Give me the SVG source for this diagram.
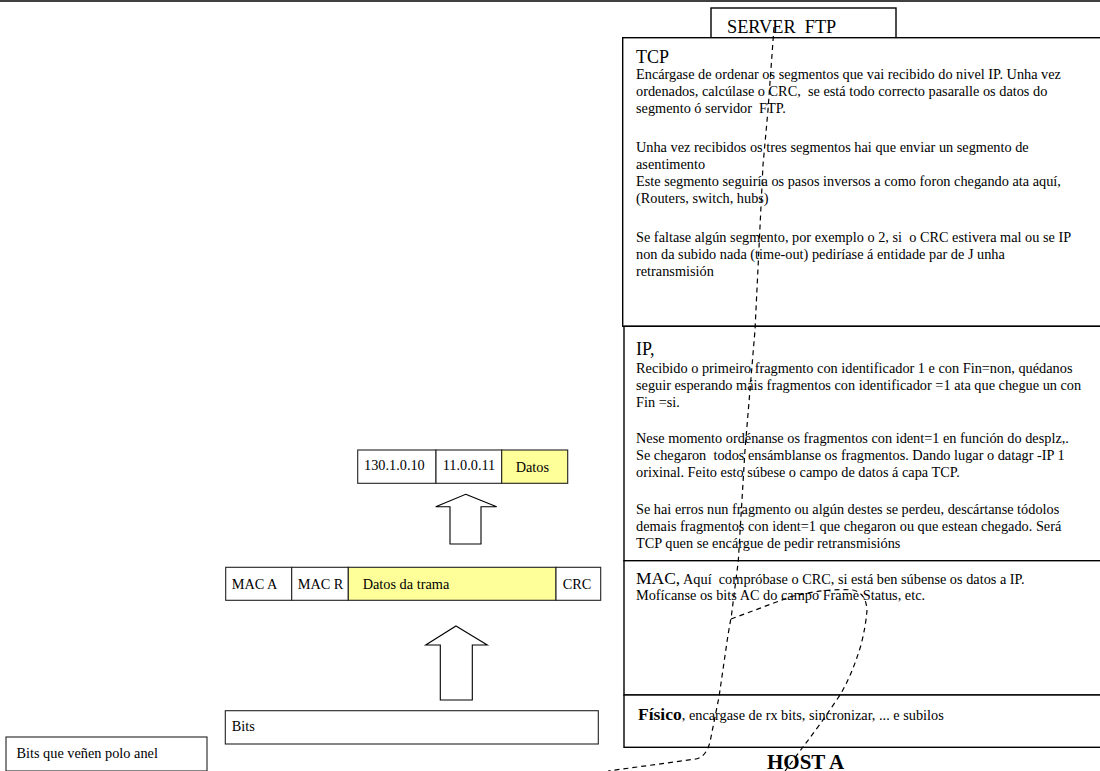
<svg xmlns="http://www.w3.org/2000/svg" width="1100" height="771" viewBox="0 0 1100 771" xml:space="preserve">
<style>
text { font-family: "Liberation Serif", "Times New Roman", serif; fill: #000; white-space: pre; }
.b { font-size: 14.3px; }
.h { font-size: 18px; }
.box { fill: #fff; stroke: #000; stroke-width: 1.4; }
.cell { fill: #fff; stroke: #222; stroke-width: 1.1; }
.yel { fill: #ffff99; stroke: #222; stroke-width: 1.1; }
.arrow { fill: #fff; stroke: #000; stroke-width: 1.1; }
.dash { fill: none; stroke: #000; stroke-width: 1.2; stroke-dasharray: 5 4; }
</style>
<rect width="1100" height="771" fill="#fff"/>
<line x1="0" y1="1" x2="1100" y2="1" stroke="#000" stroke-width="1.4"/>

<g id="server-ftp">
<rect class="box" x="711" y="8" width="185" height="30"/>
<text x="727" y="33" style="font-size:18.3px">SERVER  FTP</text>
</g>

<g id="tcp">
<rect class="box" x="622.7" y="37.7" width="490" height="288.6"/>
<text x="636" y="63" class="h">TCP</text>
<text class="b" x="636" y="79">Encárgase de ordenar os segmentos que vai recibido do nivel IP. Unha vez</text>
<text class="b" x="636" y="96">ordenados, calcúlase o CRC,  se está todo correcto pasaralle os datos do</text>
<text class="b" x="636" y="113">segmento ó servidor  FTP.</text>
<text class="b" x="636" y="152">Unha vez recibidos os tres segmentos hai que enviar un segmento de</text>
<text class="b" x="636" y="169">asentimento</text>
<text class="b" x="636" y="186">Este segmento seguiría os pasos inversos a como foron chegando ata aquí,</text>
<text class="b" x="636" y="203">(Routers, switch, hubs)</text>
<text class="b" x="636" y="242">Se faltase algún segmento, por exemplo o 2, si  o CRC estivera mal ou se IP</text>
<text class="b" x="636" y="259">non da subido nada (time-out) pediríase á entidade par de J unha</text>
<text class="b" x="636" y="276">retransmisión</text>
</g>

<g id="ip">
<rect class="box" x="624" y="326.3" width="490" height="234.4"/>
<text x="636" y="355" class="h">IP,</text>
<text class="b" x="636" y="373">Recibido o primeiro fragmento con identificador 1 e con Fin=non, quédanos</text>
<text class="b" x="636" y="390">seguir esperando máis fragmentos con identificador =1 ata que chegue un con</text>
<text class="b" x="636" y="407">Fin =si.</text>
<text class="b" x="636" y="443">Nese momento ordénanse os fragmentos con ident=1 en función do desplz,.</text>
<text class="b" x="636" y="460">Se chegaron  todos ensámblanse os fragmentos. Dando lugar o datagr -IP 1</text>
<text class="b" x="636" y="477">orixinal. Feito esto súbese o campo de datos á capa TCP.</text>
<text class="b" x="636" y="514">Se hai erros nun fragmento ou algún destes se perdeu, descártanse tódolos</text>
<text class="b" x="636" y="531">demais fragmentos con ident=1 que chegaron ou que estean chegado. Será</text>
<text class="b" x="636" y="548">TCP quen se encárgue de pedir retransmisións</text>
</g>

<g id="mac">
<rect class="box" x="624" y="560.7" width="490" height="134.3"/>
<text class="b" x="636" y="584"><tspan style="font-size:17.5px">MAC,</tspan> Aquí  compróbase o CRC, si está ben súbense os datos a IP.</text>
<text class="b" x="636" y="600">Mofícanse os bits AC do campo Frame Status, etc.</text>
</g>

<g id="fisico">
<rect class="box" x="624" y="695" width="490" height="52.3"/>
<text class="b" x="638" y="720"><tspan style="font-size:17.5px;font-weight:bold">Físico</tspan>, encargase de rx bits, sincronizar, ... e subilos</text>
</g>

<g id="host-a">
<text x="767" y="769" style="font-size:21px;font-weight:bold">HOST A</text>
</g>

<g id="ip-datagram">
<rect class="cell" x="357.7" y="450" width="78.3" height="33.3"/>
<rect class="cell" x="436" y="450" width="65.7" height="33.3"/>
<rect class="yel" x="501.7" y="450" width="66" height="33.3"/>
<text class="b" x="364" y="470">130.1.0.10</text>
<text class="b" x="442.7" y="470">11.0.0.11</text>
<text class="b" x="515.7" y="472">Datos</text>
</g>

<g id="frame">
<rect class="cell" x="225.7" y="567.3" width="66" height="33"/>
<rect class="cell" x="291.7" y="567.3" width="56.6" height="33"/>
<rect class="yel" x="348.3" y="567.3" width="207.7" height="33"/>
<rect class="cell" x="556" y="567.3" width="44.7" height="33"/>
<text class="b" x="231.7" y="588.5">MAC A</text>
<text class="b" x="297.7" y="588.5">MAC R</text>
<text class="b" x="362.7" y="588.5">Datos da trama</text>
<text class="b" x="562.7" y="588.5">CRC</text>
</g>

<g id="bits">
<rect class="cell" x="225.3" y="710.7" width="373" height="33.3"/>
<text class="b" x="231.7" y="731">Bits</text>
</g>

<g id="bits-anel">
<rect class="cell" x="6" y="737" width="201" height="34"/>
<text class="b" x="16.5" y="758">Bits que veñen polo anel</text>
</g>

<g id="arrow-1">
<polygon class="arrow" points="465.7,494.3 496.7,506.7 481,506.7 481,544 450,544 450,506.7 435.7,506.7"/>
</g>
<g id="arrow-2">
<polygon class="arrow" points="456,626 487.3,645 472.3,645 472.3,700 440.3,700 440.3,645 425.7,645"/>
</g>

<g id="connectors">
<path class="dash" d="M 774 27 L 768 110 L 763 165 L 755 330 L 745 450 L 738.3 561 L 731.5 615 L 728 635 L 719 697 L 710 742 Q 706 757 696 759 L 608 771"/>
<path class="dash" d="M 731 619 L 790 597 Q 825 588 853 590 Q 866 593 867 610 Q 866 625 861 645 Q 852 675 840 695 Q 820 725 803 747 L 785 771"/>
</g>
</svg>
